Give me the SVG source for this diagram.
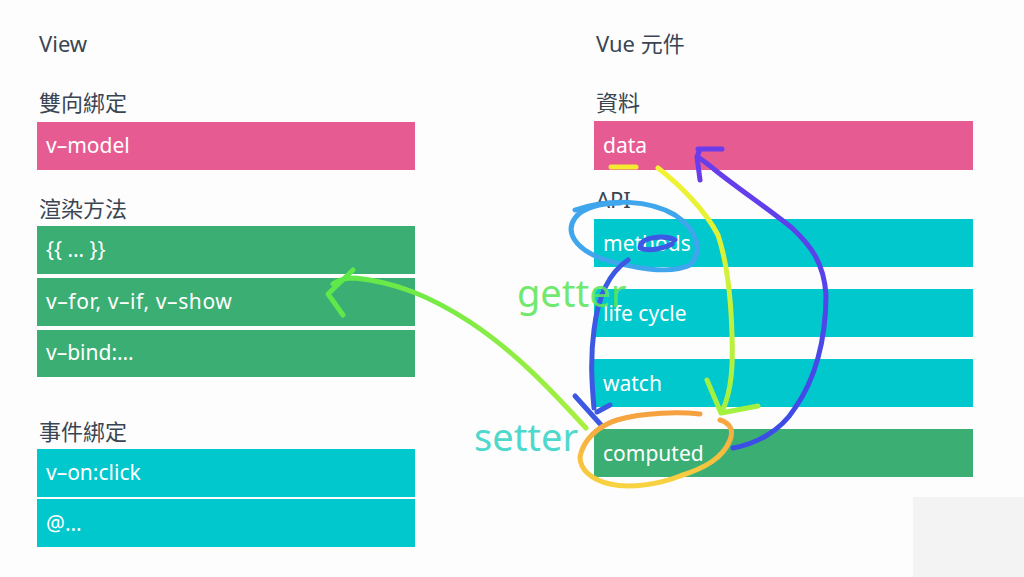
<svg xmlns="http://www.w3.org/2000/svg" width="1024" height="577" viewBox="0 0 1024 577">
<defs>
<style>
.h{font-family:"Noto Sans","Noto Sans CJK TC",sans-serif;font-size:22px;fill:#3a4552}
.t{font-family:"Noto Sans","Noto Sans CJK TC",sans-serif;font-size:21px;fill:#ffffff}
.pink{fill:#e65b92}
.green{fill:#3bae74}
.cyan{fill:#00c8cd}
.ink{fill:none;stroke-linecap:round;stroke-linejoin:round;stroke-width:5}
</style>
<linearGradient id="gGreen" gradientUnits="userSpaceOnUse" x1="585" y1="428" x2="330" y2="290">
<stop offset="0" stop-color="#a8f040"/>
<stop offset="1" stop-color="#5ee84a"/>
</linearGradient>
<linearGradient id="gYellow" gradientUnits="userSpaceOnUse" x1="0" y1="165" x2="0" y2="415">
<stop offset="0" stop-color="#f6f232"/>
<stop offset="1" stop-color="#a2f040"/>
</linearGradient>
<linearGradient id="gOrange" gradientUnits="userSpaceOnUse" x1="0" y1="412" x2="0" y2="488">
<stop offset="0" stop-color="#f6a040"/>
<stop offset="1" stop-color="#f8d440"/>
</linearGradient>
<linearGradient id="gPurple" gradientUnits="userSpaceOnUse" x1="0" y1="150" x2="0" y2="450">
<stop offset="0" stop-color="#6a3cec"/>
<stop offset="1" stop-color="#3a4ee6"/>
</linearGradient>
</defs>
<rect width="1024" height="577" fill="#fdfdfd"/>
<rect x="913" y="497" width="111" height="80" fill="#f3f3f3"/>

<g id="view">
<text class="h" x="39" y="52">View</text>
<text class="h" x="39" y="111">雙向綁定</text>
<g id="v-model"><rect class="pink" x="37" y="122" width="378" height="48"/><text class="t" x="46" y="153">v–model</text></g>
<text class="h" x="39" y="217">渲染方法</text>
<g id="mustache"><rect class="green" x="37" y="226" width="378" height="48"/><text class="t" x="46" y="257">{{ … }}</text></g>
<g id="v-for"><rect class="green" x="37" y="278" width="378" height="48"/><text class="t" x="46" y="309" letter-spacing="0.6">v–for, v–if, v–show</text></g>
<g id="v-bind"><rect class="green" x="37" y="330" width="378" height="47"/><text class="t" x="46" y="360">v–bind:…</text></g>
<text class="h" x="39" y="440">事件綁定</text>
<g id="v-on"><rect class="cyan" x="37" y="449" width="378" height="48"/><text class="t" x="46" y="480">v–on:click</text></g>
<g id="at"><rect class="cyan" x="37" y="499" width="378" height="48"/><text class="t" x="46" y="531">@…</text></g>
</g>

<g id="vue">
<text class="h" x="596" y="52">Vue 元件</text>
<text class="h" x="596" y="111">資料</text>
<g id="data"><rect class="pink" x="594" y="121" width="379" height="49"/><text class="t" x="603" y="153">data</text></g>
<text class="h" x="596" y="208">API</text>
<g id="methods"><rect class="cyan" x="594" y="219" width="379" height="48"/><text class="t" x="603" y="251">methods</text></g>
<g id="lifecycle"><rect class="cyan" x="594" y="289" width="379" height="48"/><text class="t" x="603" y="321">life cycle</text></g>
<g id="watch"><rect class="cyan" x="594" y="359" width="379" height="48"/><text class="t" x="603" y="391">watch</text></g>
<g id="computed"><rect class="green" x="594" y="429" width="379" height="48"/><text class="t" x="603" y="461">computed</text></g>
</g>

<g id="connectors">
<path class="ink" stroke="url(#gGreen)" d="M586,428 C560,400 520,355 470,322 C430,296 395,282 355,278 C345,278 338,280 333,284"/>
<path class="ink" stroke="#5ee84a" d="M353,270 L328,294 L343,315"/>
<path class="ink" stroke="#3fa6ee" d="M575,210 C610,198 650,200 675,215 C695,228 705,250 690,265 C670,275 630,268 600,258 C575,248 565,232 575,218 C582,208 600,203 620,203"/>
<path class="ink" stroke="#3d58e2" d="M675,240 C665,235 640,236 640,248 C650,252 665,248 672,244 M628,260 C610,272 598,295 594,330 C590,360 592,385 594,408"/>
<path class="ink" stroke="#3d58e2" d="M575,396 L602,426 M610,405 L597,412"/>
<path class="ink" stroke="#f6ea30" d="M611,167 L636,167"/>
<path class="ink" stroke="url(#gYellow)" d="M658,168 C680,185 705,210 718,235 C728,265 731,300 732,335 C733,365 732,390 722,412"/>
<path class="ink" stroke="#a2f040" d="M707,380 L721,413 L758,406"/>
<path class="ink" stroke="url(#gOrange)" d="M700,414 C680,412 645,412 617,420 C598,426 583,440 580,457 C580,470 592,480 610,484 C630,489 660,484 680,476 C705,468 723,458 730,440 C734,430 730,423 720,420"/>
<path class="ink" stroke="url(#gPurple)" d="M733,448 C755,444 780,432 795,408 C815,380 826,340 826,295 C824,262 810,245 792,228 C770,210 740,190 715,170 C708,164 702,160 698,157"/>
<path class="ink" stroke="#6a3cec" d="M700,180 L697,157 L700,149 M698,149 L722,149"/>
</g>

<g id="labels">
<text x="517" y="307" font-family="Noto Sans, sans-serif" font-size="38" fill="#5ee65c" fill-opacity="0.9">getter</text>
<text x="474" y="451" font-family="Noto Sans, sans-serif" font-size="38" fill="#4fd8cc">setter</text>
</g>
</svg>
